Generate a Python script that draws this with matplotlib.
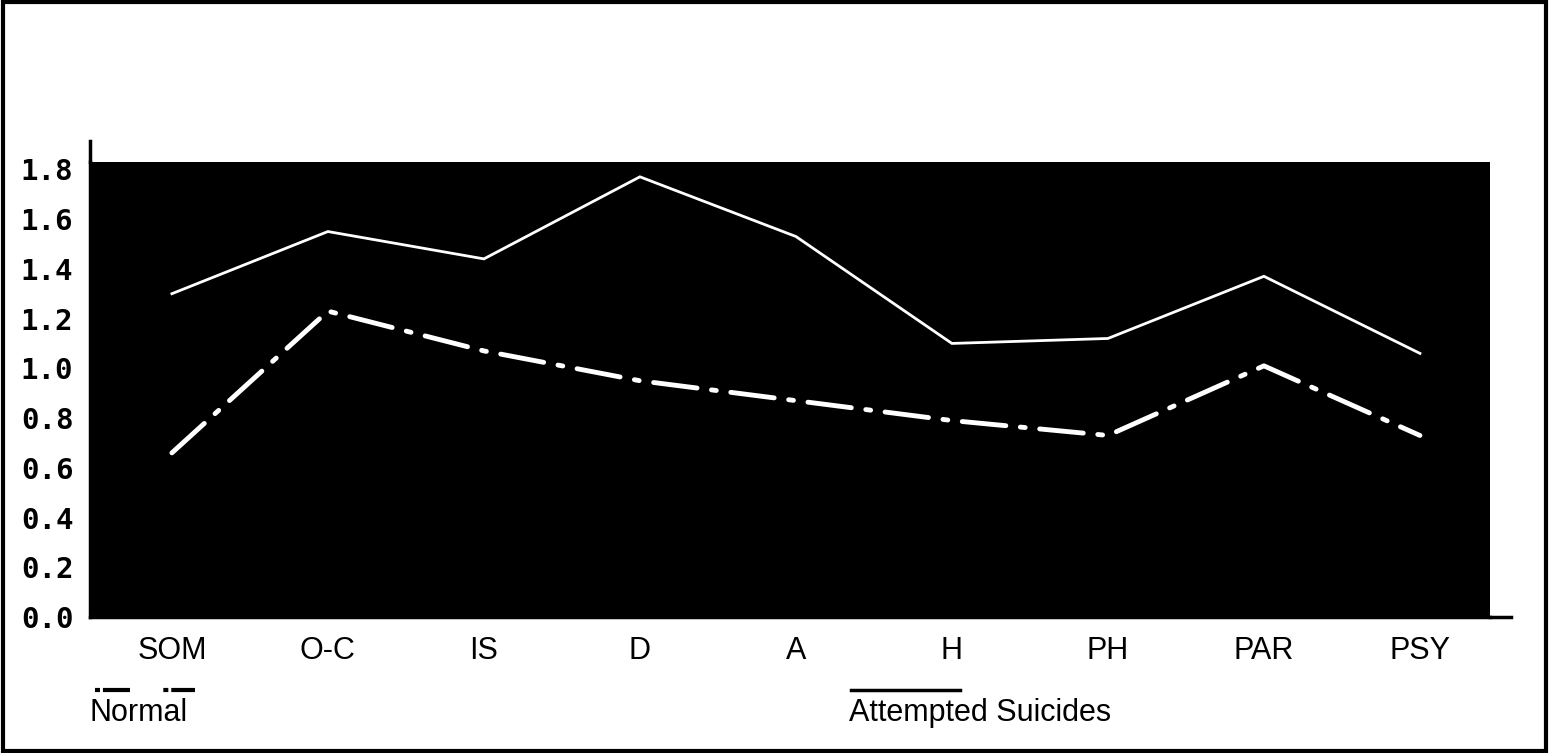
import matplotlib
matplotlib.use("Agg")
import matplotlib.pyplot as plt
from matplotlib.lines import Line2D
from matplotlib.patches import Rectangle

# mean symptom scores per scale
scales = ['SOM', 'O-C', 'IS', 'D', 'A', 'H', 'PH', 'PAR', 'PSY']
attempted = [1.30, 1.55, 1.44, 1.77, 1.53, 1.10, 1.12, 1.37, 1.06]
normal = [0.66, 1.23, 1.07, 0.95, 0.87, 0.79, 0.73, 1.01, 0.73]
yticks = [0.0, 0.2, 0.4, 0.6, 0.8, 1.0, 1.2, 1.4, 1.6, 1.8]

plt.rcParams['font.family'] = ['Liberation Sans', 'DejaVu Sans']

fig = plt.figure(figsize=(15.49, 7.53), dpi=100)
ax = fig.add_axes([0.0581, 0.1806, 0.9039, 0.6044])
ax.set_facecolor('black')

x = list(range(len(scales)))
ax.plot(x, attempted, color='white', lw=2.0, solid_joinstyle='miter')
ax.plot(x, normal, color='white', lw=3.5, linestyle=(0, (9, 3, 1, 3)),
        dash_capstyle='round')

ax.set_xlim(-0.525, 8.45)
ax.set_ylim(0, 1.83)
ax.set_xticks(x)
ax.set_xticklabels(scales, fontsize=22)
ax.set_yticks(yticks)
ax.set_yticklabels(['%.1f' % v for v in yticks], fontsize=21,
                   family='DejaVu Sans Mono', fontweight='bold')
ax.tick_params(axis='both', length=0)
ax.tick_params(axis='x', pad=14)
ax.tick_params(axis='y', pad=12)

for side in ['top', 'right']:
    ax.spines[side].set_visible(False)
ax.spines['left'].set_linewidth(2.5)
ax.spines['bottom'].set_linewidth(2.5)

# axis lines run a little past the plotting area
ax.add_line(Line2D([1.0, 1.015], [0, 0], transform=ax.transAxes,
                   color='black', lw=2.5, clip_on=False))
ax.add_line(Line2D([0, 0], [1.0, 1.045], transform=ax.transAxes,
                   color='black', lw=2.5, clip_on=False))

# legend below the axis
fig.add_artist(Line2D([95 / 1549, 195 / 1549], [1 - 690 / 753] * 2,
                      color='black', lw=3, linestyle=(0, (1.2, 0.7, 6.5, 8))))
fig.text(90 / 1549, 1 - 713 / 753, 'Normal', fontsize=22,
         va='center', ha='left')
fig.add_artist(Line2D([851 / 1549, 960 / 1549], [1 - 690 / 753] * 2,
                      color='black', lw=2.5))
fig.text(849 / 1549, 1 - 713 / 753, 'Attempted Suicides', fontsize=22,
         va='center', ha='left')

# outer frame
fig.add_artist(Rectangle((0.002, 0.003), 0.996, 0.994, transform=fig.transFigure,
                         fill=False, edgecolor='black', lw=3))

fig.savefig('out.png', dpi=100, facecolor='white')
